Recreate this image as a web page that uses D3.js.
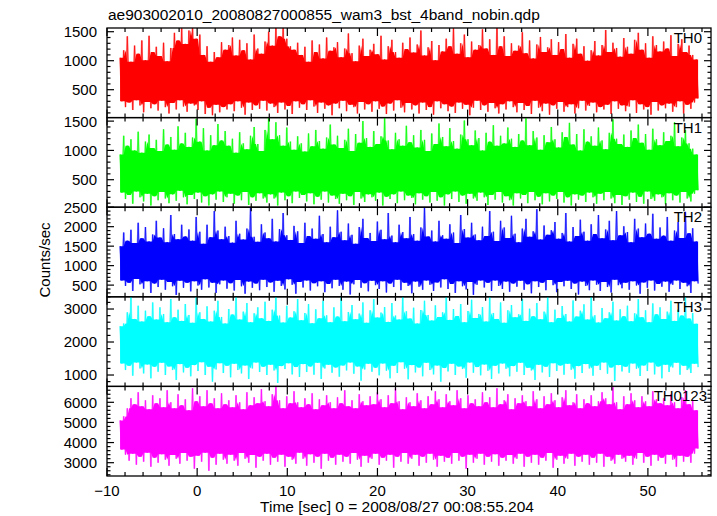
<!DOCTYPE html>
<html><head><meta charset="utf-8">
<script src="https://cdn.jsdelivr.net/npm/d3@7"></script>
<style>body{margin:0;background:#fff}svg{display:block}text{font-family:"Liberation Sans",Arial,Helvetica,sans-serif;fill:#000}</style>
</head><body><svg id="c" width="717" height="516"></svg>
<script>
const title = "ae903002010_20080827000855_wam3_bst_4band_nobin.qdp";
const xLabel = "Time [sec] 0 = 2008/08/27 00:08:55.204";
const yLabel = "Counts/sec";
const bands = ["TH0","TH1","TH2","TH3","TH0123"];
const colors = ["#ff0000","#00ff00","#0000ff","#00ffff","#ff00ff"];
const tStart = -8.55, tStep = 0.201;
const xDomain = [-10, 57.0];
const xTickVals = [-10,0,10,20,30,40,50];
const xTickLabels = ["\u221210","0","10","20","30","40","50"];
const yDomains = [[19,1564],[31,1560],[200,2500],[655,3370],[2339,6790]];
const yTicks = [[500,1000,1500],[500,1000,1500],[500,1000,1500,2000,2500],[1000,2000,3000],[3000,4000,5000,6000]];
const yMinor = [100,100,100,200,200];

const th0 = [1050,300,1180,200,1420,280,980,150,1260,320,1120,230,1350,110,1010,290,1430,180,1150,250,
1240,140,1080,310,1310,200,990,90,1220,270,1480,160,1350,320,1560,210,1290,120,1520,260,
1600,230,1380,150,1450,300,1100,80,1250,190,980,60,1150,240,1060,110,1320,200,1190,160,
1270,250,1400,130,1090,300,1360,190,1180,70,1300,280,1020,150,1450,230,1210,170,1120,310,
1330,140,1500,260,1260,200,1580,100,1420,280,1600,160,1380,220,1250,80,1190,300,1310,190,
1100,250,1240,150,980,320,1350,210,1150,100,1280,280,1040,170,1400,230,1170,60,1230,260,
1320,180,1060,310,1210,130,1470,240,1130,200,990,90,1260,290,1380,160,1080,250,1190,120,
1290,300,1110,170,1430,210,1020,80,1250,260,1360,140,1150,320,1050,190,1310,110,1200,270,
1400,160,1140,230,1280,90,1520,280,1090,150,1230,200,1340,70,1010,300,1270,180,1160,250,
1380,130,1250,210,1560,100,1120,280,1300,170,1450,240,1060,60,1330,190,1190,310,1270,150,
1540,230,1210,120,1370,270,1100,180,1600,90,1250,250,1420,160,1080,300,1300,200,1170,110,
1260,270,1490,150,1130,220,1350,80,1040,310,1280,190,1410,130,1150,260,1230,70,1370,230,
1100,170,1320,290,1200,120,1460,200,1050,250,1290,90,1380,180,1120,310,1250,140,1000,220,
1180,280,1340,110,1090,200,1270,160,1530,240,1150,80,1310,300,1220,170,1070,230,1390,130,
1240,210,1120,320,1360,100,1480,250,1190,160,1300,200,1050,70,1420,290,1270,140,1160,230,
1330,180,1210,260,1440,120,1080,200,1290,300,1370,90,1150,240,1260,170,1100,280,1020,350];

const th1 = [930,280,1250,170,1080,240,1190,90,1000,300,1320,200,960,130,1150,260,1270,60,1040,220,
1180,150,990,290,1360,180,1100,100,1230,250,1010,140,1410,310,1120,200,1300,80,1060,240,
1220,170,1540,280,1150,110,1380,220,1000,60,1260,250,1090,160,1450,300,1170,120,1330,200,
1080,260,1200,90,960,230,1310,150,1120,290,1020,70,1250,200,1400,140,1110,270,990,180,
1350,110,1570,250,1190,180,1480,60,1260,280,1080,150,1390,220,1150,100,1010,300,1240,190,
1120,240,980,130,1290,270,1070,80,1350,210,1160,160,1030,300,1220,110,1440,230,1100,170,
1250,90,1040,260,1180,150,1370,220,990,70,1280,290,1130,180,1500,120,1210,250,1060,200,
1330,140,1110,280,1240,60,1560,210,1170,170,1020,250,1300,100,1190,300,1080,150,1420,230,
1140,190,1260,80,1050,270,1350,160,1180,220,990,110,1290,290,1110,140,1460,200,1230,60,
1070,250,1380,170,1160,300,1030,120,1270,230,1510,90,1190,260,1090,180,1340,140,1210,280,
1000,200,1300,70,1150,240,1430,160,1080,290,1250,110,1120,220,1390,150,1200,60,1060,270,
1280,180,1170,240,1550,100,1090,290,1330,150,1220,210,1010,80,1260,270,1140,130,1400,230,
1190,170,1050,290,1310,110,1230,200,1470,60,1100,250,1280,160,1000,230,1360,120,1150,280,
1240,200,1080,90,1390,260,1170,150,1020,290,1300,180,1530,100,1200,240,1110,70,1270,220,
1060,160,1340,280,1210,120,1440,210,1130,90,1280,300,1010,170,1370,140,1190,250,1090,200,
1310,80,1160,270,1250,150,1480,230,1070,110,1220,290,1350,180,1120,130,1030,260,930,320];

const th2 = [1500,620,1850,480,1640,560,1920,350,1580,660,2100,520,1700,410,1990,600,1620,300,1800,540,
2150,450,1720,640,1960,380,1600,580,2300,470,1810,250,1680,610,2050,430,1750,560,1930,340,
1640,600,2250,490,1870,380,1560,650,2050,440,1730,560,2400,300,1900,520,1680,620,2000,410,
1760,550,1590,360,2150,630,1820,470,1670,280,1950,590,2480,430,1740,540,1610,370,2060,640,
1850,450,1700,570,2200,330,1620,610,1940,480,2350,390,1780,650,1660,510,2020,280,1880,580,
1580,440,2100,620,1760,360,1950,550,1690,470,2280,600,1810,320,1600,530,2000,420,1730,640,
2420,480,1870,380,1650,590,2080,260,1790,520,1560,630,1990,430,2200,550,1710,340,1840,610,
1630,500,2130,400,1920,600,1680,310,2350,540,1770,450,1600,640,2050,370,1860,560,1700,480,
2250,290,1810,590,1640,460,1980,380,2500,620,1750,510,1900,350,1620,570,2150,440,1780,650,
1690,400,2060,530,1850,300,1580,600,2300,470,1940,390,1720,580,2100,250,1800,510,1650,620,
2000,440,1760,560,2400,350,1870,620,1630,480,2150,400,1980,590,1710,330,2280,540,1820,460,
1600,610,1950,380,2200,520,1740,290,1880,600,2450,450,1670,560,2030,370,1790,630,1910,500,
2120,320,1690,580,1840,470,2350,610,1620,400,1990,540,1760,260,2180,590,1870,480,1640,370,
2060,620,1810,510,2300,350,1700,580,1930,450,2150,310,1650,640,2400,500,1780,420,2010,560,
1860,380,1600,600,2200,490,1950,280,1730,570,2080,430,1820,620,2330,360,1690,530,1980,460,
1770,590,2250,330,1640,510,1900,620,2120,400,1710,560,2380,470,1830,300,1960,600,1620,540];

const th3 = [2480,1350,2560,1150,2900,1280,3370,980,2700,1380,3100,1200,2620,1050,2950,1320,2780,900,3200,1250,
2680,1100,3050,1370,2850,1000,2600,1260,3300,1150,2750,850,2980,1330,2640,1080,3150,1220,2820,960,
2580,1300,3370,1120,2900,1390,2700,1000,3080,1250,2620,800,2950,1170,3250,1360,2760,1060,2560,1280,
3000,930,2830,1340,3370,1150,2680,1050,2920,1290,3180,880,2600,1200,2870,1380,3050,1090,2720,1250,
3220,1000,2640,1310,2980,1140,3370,760,2800,1270,2590,1180,3100,1360,2740,1020,2930,1240,3300,940,
2660,1330,2880,1090,3150,1260,2570,1010,2990,1370,2720,880,3250,1200,2810,1310,2600,1070,3050,1230,
2770,950,3370,1290,2630,1140,2910,1380,3120,1040,2690,1260,2860,830,3200,1170,2580,1340,2960,1100,
3300,1220,2740,990,2890,1350,3060,1130,2610,900,3180,1280,2800,1060,2680,1390,3370,1190,2930,870,
2710,1300,3040,1080,2560,1230,2970,960,3250,1370,2820,1150,2650,1020,3110,1290,2760,800,2900,1210,
3370,1110,2670,1340,3000,1000,2790,1260,3150,1180,2600,920,2940,1380,3280,1070,2730,1240,2850,990,
3060,1320,2620,1130,3370,880,2880,1280,2700,1050,3200,1350,2580,1190,2960,960,3120,1270,2750,1100,
2840,1370,3300,1000,2640,1220,3010,1140,2780,850,3180,1310,2690,1080,2920,1250,3370,940,2600,1360,
2980,1120,2730,1290,3090,1010,2850,1340,2620,1160,3260,890,2770,1270,2950,1060,3140,1330,2680,1200,
3370,980,2810,1280,2590,1150,3030,1380,2720,1040,2900,1230,3220,820,2650,1300,2990,1110,2780,1250,
3100,1070,2630,1350,2870,1190,3300,970,2750,1290,2960,1120,2600,1380,3170,1020,2840,1260,3050,900,
2700,1310,2920,1090,3250,1230,2640,1370,2980,1010,2800,1280,3370,1150,2710,1060,2880,1340,2550,1240];

const th0123 = [5100,3650,5300,3400,5700,3100,6200,3450,5900,2900,6500,3300,5800,3050,6100,3500,5650,2800,6350,3250,
5950,3000,6200,3420,5750,3150,6600,2850,6000,3380,5700,3200,6400,2950,5850,3480,6150,3100,5600,3300,
6700,2700,6050,3350,6300,3050,5800,3500,6600,2600,5950,3250,6200,2900,5700,3450,6450,3150,5900,2950,
6100,3400,5750,3100,6350,2850,6000,3480,5650,3200,6500,3000,5850,3380,6250,2750,5950,3300,6650,3100,
6050,3450,5800,2900,6400,3250,6780,3050,6100,3400,5700,2800,6300,3300,5950,3150,6550,2950,6000,3500,
5750,3200,6200,2850,5900,3420,6450,3000,5650,3300,6150,2700,5850,3450,6350,3100,6000,3250,5700,2900,
6250,3400,5950,3050,6600,3300,5800,2950,6100,3480,5700,3150,6400,2800,6050,3350,5850,3000,6300,3200,
5900,3450,6500,2900,6150,3250,5750,3100,6350,3400,5950,2750,6700,3300,6050,3050,5650,3480,6250,2950,
6000,3200,5800,3400,6450,2850,6100,3300,5700,3000,6300,3450,5900,3150,6550,2800,6150,3350,5750,3050,
6400,3250,6050,2950,5850,3480,6600,3100,6200,3300,5700,2700,6350,3400,5950,3000,6150,3200,5800,3450,
6500,2900,6000,3300,6250,3050,5750,3420,6700,2850,5900,3250,6100,3100,6400,3380,5650,2950,6200,3200,
5950,3450,6350,2800,6050,3300,5800,3000,6550,3400,6150,2900,5700,3250,6300,3100,5900,3480,6450,2750,
6100,3150,5750,3350,6250,2950,6600,3200,5850,3450,6000,2850,6400,3300,5700,3050,6150,3400,5950,2900,
6350,3250,5800,3000,6050,3450,6500,2800,6200,3300,5900,3100,6750,2950,6000,3400,5650,3200,6300,3050,
5900,3350,6450,2900,6100,3200,5750,3480,6300,3000,6050,3300,5800,2850,6550,3400,6150,3100,5950,3250,
6200,2950,5850,3400,6400,3150,6000,2800,5700,3350,6250,3050,6600,3300,5900,3000,6100,3450,5600,3700];

const series = [th0, th1, th2, th3, th0123];

const plotLeft = 107, plotRight = 711, plotTop = 28, plotBottom = 476;
const np = series.length, ph = (plotBottom - plotTop) / np;
const svg = d3.select("#c");
const x = d3.scaleLinear().domain(xDomain).range([plotLeft, plotRight]);
const defs = svg.append("defs");

series.forEach((vals, p) => {
  const py0 = plotTop + p * ph, py1 = py0 + ph;
  const y = d3.scaleLinear().domain(yDomains[p]).range([py1, py0]);
  const cid = "clip" + p;
  defs.append("clipPath").attr("id", cid).append("rect")
    .attr("x", plotLeft).attr("y", py0).attr("width", plotRight - plotLeft).attr("height", ph);
  const pts = vals.map((v, i) => ({t: tStart + i * tStep, v}));
  const core = pts.map((d, i) => {
    let hi = Infinity, lo = -Infinity;
    for (let j = Math.max(0, i - 2); j <= Math.min(pts.length - 2, i + 1); j++) {
      hi = Math.min(hi, Math.max(pts[j].v, pts[j + 1].v));
      lo = Math.max(lo, Math.min(pts[j].v, pts[j + 1].v));
    }
    if (lo > hi) { const m = (lo + hi) / 2; lo = m; hi = m; }
    return {t: d.t, hi, lo};
  });
  const g = svg.append("g").attr("clip-path", `url(#${cid})`);
  g.append("path").datum(pts).attr("fill", "none").attr("stroke", colors[p])
    .attr("stroke-width", 1.7).attr("stroke-opacity", 0.5)
    .attr("d", d3.line().x(d => x(d.t)).y(d => y(d.v)));
  g.append("path").datum(core).attr("fill", colors[p])
    .attr("d", d3.area().x(d => x(d.t)).y0(d => y(d.lo)).y1(d => y(d.hi)));
  g.append("path").datum(pts).attr("fill", "none").attr("stroke", colors[p])
    .attr("stroke-width", 0.7).attr("stroke-opacity", 0.9)
    .attr("d", d3.line().x(d => x(d.t)).y(d => y(d.v)));

  svg.append("rect").attr("x", plotLeft).attr("y", py0).attr("width", plotRight - plotLeft).attr("height", ph)
    .attr("fill", "none").attr("stroke", "#000").attr("stroke-width", 1.3);

  const ax = svg.append("g").attr("stroke", "#000").attr("stroke-width", 1.2);
  for (let t = -10; t <= xDomain[1]; t += 2) {
    const len = (t % 10 === 0) ? 8 : 4;
    ax.append("line").attr("x1", x(t)).attr("x2", x(t)).attr("y1", py0).attr("y2", py0 + len);
    ax.append("line").attr("x1", x(t)).attr("x2", x(t)).attr("y1", py1).attr("y2", py1 - len);
  }
  const [d0, d1] = yDomains[p];
  const majorStep = yTicks[p][1] - yTicks[p][0];
  for (let v = Math.ceil(d0 / yMinor[p]) * yMinor[p]; v <= d1 + 1; v += yMinor[p]) {
    const len = (v % majorStep === 0) ? 7 : 3.5;
    const yy = y(Math.min(v, d1));
    ax.append("line").attr("x1", plotLeft).attr("x2", plotLeft + len).attr("y1", yy).attr("y2", yy);
    ax.append("line").attr("x1", plotRight).attr("x2", plotRight - len).attr("y1", yy).attr("y2", yy);
  }
  yTicks[p].forEach(v => {
    svg.append("text").attr("x", 97).attr("y", y(v)).attr("dy", "0.36em")
      .attr("text-anchor", "end").attr("font-size", 15).text(v);
  });
  svg.append("text").attr("x", p === 4 ? 707 : 702).attr("y", py0 + 15)
    .attr("text-anchor", "end").attr("font-size", 15).text(bands[p]);
});

xTickVals.forEach((t, i) => {
  svg.append("text").attr("x", x(t)).attr("y", 496).attr("text-anchor", "middle")
    .attr("font-size", 15).text(xTickLabels[i]);
});
svg.append("text").attr("x", 108).attr("y", 19.5).attr("font-size", 15.5).text(title);
svg.append("text").attr("x", 397).attr("y", 512).attr("text-anchor", "middle").attr("font-size", 15.5).text(xLabel);
svg.append("text").attr("transform", "translate(50,260) rotate(-90)").attr("text-anchor", "middle")
  .attr("font-size", 15).text(yLabel);
</script></body></html>
